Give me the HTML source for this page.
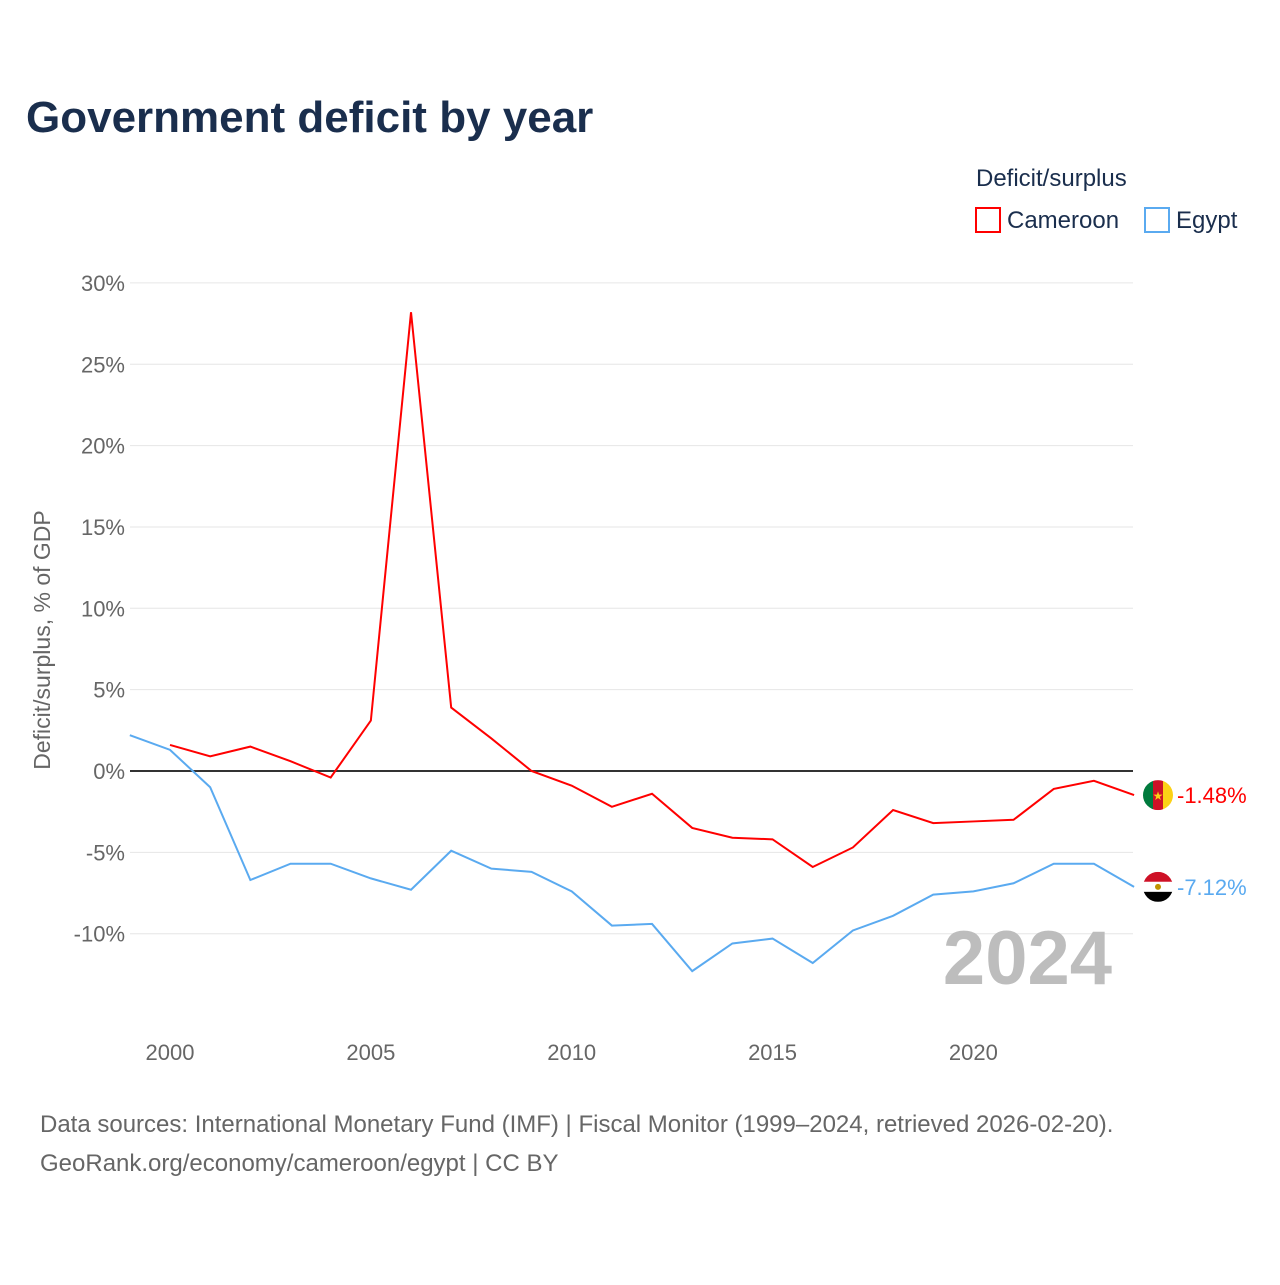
<!DOCTYPE html>
<html><head><meta charset="utf-8"><style>
body{margin:0;background:#fff;width:1280px;height:1280px;overflow:hidden;font-family:"Liberation Sans",sans-serif}
</style></head><body>
<svg id="chart" width="1280" height="1280" xmlns="http://www.w3.org/2000/svg" font-family="Liberation Sans, sans-serif">
<defs>
<clipPath id="c1"><circle cx="1158" cy="0" r="15"/></clipPath>
</defs>
<text x="26" y="132" font-size="44" font-weight="bold" fill="#1a2e4d">Government deficit by year</text>
<text x="976" y="186" font-size="24" fill="#1a2e4d">Deficit/surplus</text>
<g><rect x="976" y="208" width="24" height="24" fill="none" stroke="#ff0000" stroke-width="2"/><text x="1007" y="228" font-size="24" fill="#1a2e4d">Cameroon</text></g>
<g><rect x="1145" y="208" width="24" height="24" fill="none" stroke="#5aaaf0" stroke-width="2"/><text x="1176" y="228" font-size="24" fill="#1a2e4d">Egypt</text></g>
<text transform="translate(50,640) rotate(-90)" text-anchor="middle" font-size="23" fill="#666">Deficit/surplus, % of GDP</text>
<g id="grid"></g><g id="series"></g>
<text x="1112" y="984" text-anchor="end" font-size="76" font-weight="bold" fill="#bdbdbd">2024</text>
<text x="40" y="1132" font-size="24" fill="#666">Data sources: International Monetary Fund (IMF) | Fiscal Monitor (1999–2024, retrieved 2026-02-20).</text>
<text x="40" y="1171" font-size="24" fill="#666">GeoRank.org/economy/cameroon/egypt | CC BY</text>
</svg>
<script>
const yTicks=[-10,-5,0,5,10,15,20,25,30];
const xTicks=[2000,2005,2010,2015,2020];
const camYears=[2000,2001,2002,2003,2004,2005,2006,2007,2008,2009,2010,2011,2012,2013,2014,2015,2016,2017,2018,2019,2020,2021,2022,2023,2024];
const camValues=[1.6,0.9,1.5,0.6,-0.4,3.1,28.2,3.9,2.0,0,-0.9,-2.2,-1.4,-3.5,-4.1,-4.2,-5.9,-4.7,-2.4,-3.2,-3.1,-3.0,-1.1,-0.6,-1.48];
const egyYears=[1999,2000,2001,2002,2003,2004,2005,2006,2007,2008,2009,2010,2011,2012,2013,2014,2015,2016,2017,2018,2019,2020,2021,2022,2023,2024];
const egyValues=[2.2,1.3,-1.0,-6.7,-5.7,-5.7,-6.6,-7.3,-4.9,-6.0,-6.2,-7.4,-9.5,-9.4,-12.3,-10.6,-10.3,-11.8,-9.8,-8.9,-7.6,-7.4,-6.9,-5.7,-5.7,-7.12];
const NS="http://www.w3.org/2000/svg";
const x=v=>170+(v-2000)*40.17;
const y=v=>771-v*16.27;
const grid=document.getElementById('grid'),ser=document.getElementById('series');
const defs=document.querySelector('defs');
function mk(t,a,p){const e=document.createElementNS(NS,t);for(const k in a)e.setAttribute(k,a[k]);p.appendChild(e);return e;}
yTicks.forEach(t=>{
 const l=mk('line',{x1:130,x2:1133,y1:y(t),y2:y(t),stroke:t===0?'#333':'#e6e6e6','stroke-width':t===0?2:1},grid);
 
 
 const tx=mk('text',{x:125,y:y(t)+8,'text-anchor':'end','font-size':22,fill:'#666'},grid);
 tx.textContent=t+'%';
 
 
});
xTicks.forEach(t=>{
 const tx=mk('text',{x:x(t),y:1060,'text-anchor':'middle','font-size':22,fill:'#666'},grid);
 tx.textContent=t;
 
 
});
let cid=0;
function line(ys,vs,col,name,flag){
 const p=mk('polyline',{points:ys.map((yr,i)=>x(yr)+','+y(vs[i])).join(' '),fill:'none',stroke:col,'stroke-width':2},ser);
 
 
 const lv=vs[vs.length-1],ly=y(lv);
 cid++;
 const cp=mk('clipPath',{id:'fc'+cid},defs);
 mk('circle',{cx:1158,cy:ly,r:15},cp);
 const g=mk('g',{'clip-path':'url(#fc'+cid+')'},ser);
 
 
 flag(g,1158,ly);
 const t=mk('text',{x:1177,y:ly+8,'font-size':22,fill:col},ser);
 t.textContent=lv.toFixed(2)+'%';
 
 
}
line(camYears,camValues,'#ff0000','cameroon-line',(g,cx,cy)=>{
 mk('rect',{x:cx-15,y:cy-15,width:10,height:30,fill:'#007a3d'},g);
 mk('rect',{x:cx-5,y:cy-15,width:10,height:30,fill:'#ce1126'},g);
 mk('rect',{x:cx+5,y:cy-15,width:10,height:30,fill:'#fcd116'},g);
 mk('text',{x:cx,y:cy+5,'text-anchor':'middle','font-size':12,fill:'#fcd116'},g).textContent='★';
});
line(egyYears,egyValues,'#5aaaf0','egypt-line',(g,cx,cy)=>{
 mk('rect',{x:cx-15,y:cy-15,width:30,height:10,fill:'#ce1126'},g);
 mk('rect',{x:cx-15,y:cy-5,width:30,height:10,fill:'#fff'},g);
 mk('rect',{x:cx-15,y:cy+5,width:30,height:10,fill:'#000'},g);
 mk('circle',{cx:cx,cy:cy,r:3,fill:'#c09300'},g);
});
</script>
</body></html>
